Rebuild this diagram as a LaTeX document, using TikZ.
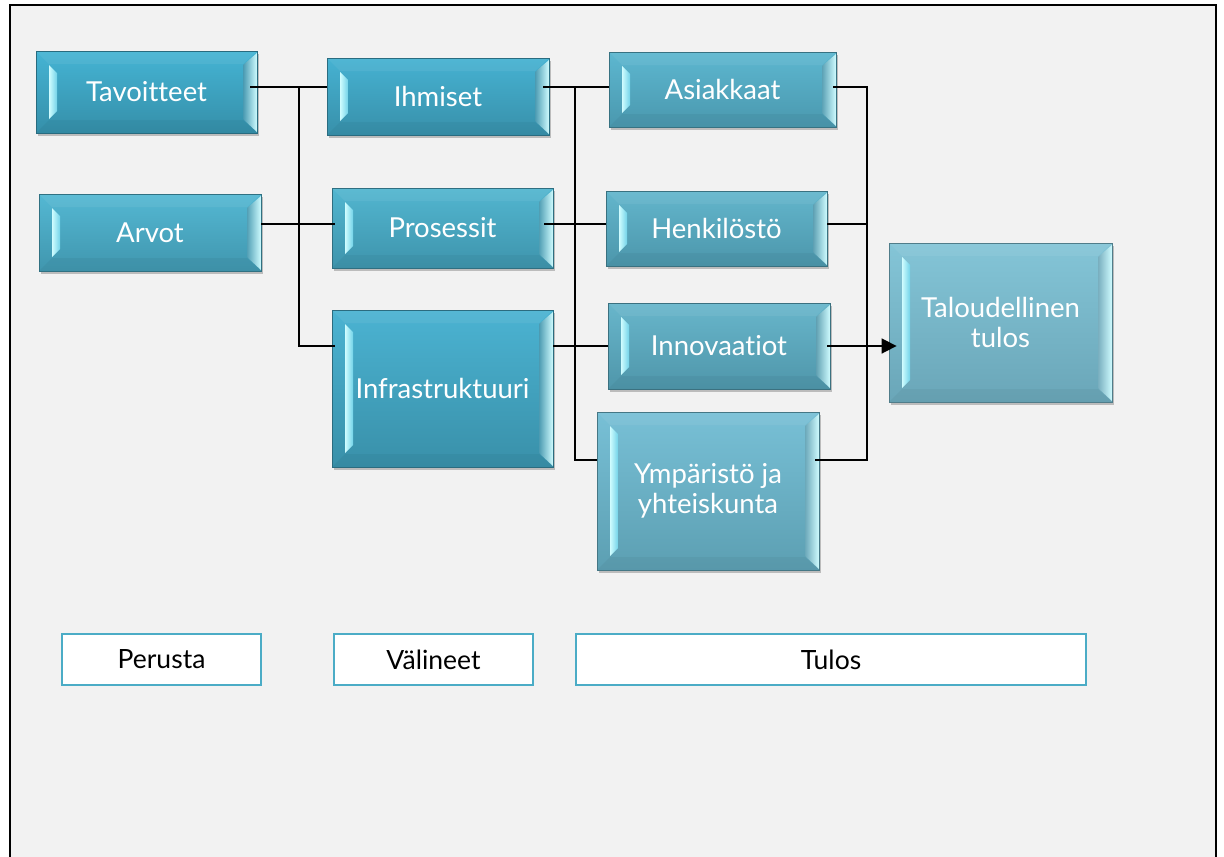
\documentclass[tikz,border=0pt]{standalone}
\usepackage{fontspec}
\setmainfont{Lato}[Ligatures=NoCommon]
\usetikzlibrary{shadows,arrows.meta}

\definecolor{pagebg}{HTML}{F2F2F2}
\definecolor{hilite}{HTML}{CFFCFF}
\definecolor{hilitedark}{HTML}{72D3E8}
\definecolor{tagline}{HTML}{4BACC6}

\newcommand\boxfont{\fontsize{27.5}{30}\selectfont}
\newcommand\tagfont{\fontsize{26.5}{30}\selectfont}

\tikzset{
  bevel/.style 2 args={
    rectangle, inner sep=0pt,
    top color=#1, bottom color=#2, draw=#2!75!black, line width=0.8pt,
    text=white, font=\boxfont, align=center,
    drop shadow={shadow xshift=1.5pt, shadow yshift=-3pt, opacity=0.22, fill=black},
    path picture={
      \coordinate (pp-nw) at (path picture bounding box.north west);
      \coordinate (pp-se) at (path picture bounding box.south east);
      \coordinate (pp-ne) at (pp-nw -| pp-se);
      \coordinate (pp-sw) at (pp-nw |- pp-se);
      % slightly darker lower bevel face, lighter upper face
      \fill[black, opacity=0.04] (pp-sw) -- (pp-se) -- ([shift={(-14pt,13pt)}]pp-se)
        -- ([shift={(13pt,13pt)}]pp-sw) -- cycle;
      \fill[white, opacity=0.06] (pp-nw) -- (pp-ne) -- ([shift={(-14pt,-13pt)}]pp-ne)
        -- ([shift={(13pt,-13pt)}]pp-nw) -- cycle;
      % left highlight strip
      \shade[left color=hilite, right color=hilitedark]
        ([shift={(13pt,-14pt)}]pp-nw) -- ([shift={(21pt,-22pt)}]pp-nw)
        -- ([shift={(21pt,22pt)}]pp-sw) -- ([shift={(13pt,14pt)}]pp-sw) -- cycle;
      % right highlight face
      \shade[left color=#2!90!white, right color=hilite]
        ([shift={(0pt,-2pt)}]pp-ne) -- ([shift={(-14pt,-14pt)}]pp-ne)
        -- ([shift={(-14pt,14pt)}]pp-se) -- ([shift={(0pt,1pt)}]pp-se) -- cycle;
    }
  },
  tagbox/.style={
    rectangle, inner sep=0pt, fill=white, draw=tagline, line width=1.6pt,
    text=black, font=\tagfont
  },
  link/.style={draw=black, line width=1.6pt},
  feed/.style={link, -{Triangle[length=15pt,width=15pt]}}
}

% #1 name, #2 x1, #3 y1, #4 x2, #5 y2, #6 top colour, #7 bottom colour, #8 text
\newcommand\bevelnode[8]{%
  \definecolor{#1-top}{HTML}{#6}%
  \definecolor{#1-bot}{HTML}{#7}%
  \node[bevel={#1-top}{#1-bot}, minimum width={#4pt-#2pt}, minimum height={#5pt-#3pt}]
    (#1) at ({(#2+#4)/2},{(#3+#5)/2}) {#8};}
\newcommand\tagnode[6]{%
  \node[tagbox, minimum width={#4pt-#2pt}, minimum height={#5pt-#3pt}]
    (#1) at ({(#2+#4)/2},{(#3+#5)/2}) {#6};}

\begin{document}
\begin{tikzpicture}[x=1pt, y=-1pt]
  \useasboundingbox (0,0) rectangle (1224,857);
  \fill[white] (0,0) rectangle (1224,857);
  % page frame, open at the bottom
  \fill[pagebg] (10,5) rectangle (1216,870);
  \draw[line width=2pt] (10,870) -- (10,5) -- (1216,5) -- (1216,870);

  % foundation
  \bevelnode{tav}{36}{51}{257}{133}{45B4D4}{358FA9}{Tavoitteet}
  \bevelnode{arv}{39}{194}{261}{271}{54B8D3}{4096AE}{Arvot}
  % means
  \bevelnode{ihm}{327}{58}{549}{135}{46B2D2}{3890AA}{Ihmiset}
  \bevelnode{pro}{332}{188}{553}{268}{52B6D0}{3E94AC}{Prosessit}
  \bevelnode{inf}{332}{310}{553}{467}{4BB3D2}{3990A9}{Infrastruktuuri}
  % results
  \bevelnode{asi}{609}{52}{836}{127}{5DB7D0}{4A98AE}{Asiakkaat}
  \bevelnode{hen}{606}{191}{827}{266}{63B6CC}{4C96AB}{Henkilöstö}
  \bevelnode{inn}{608}{303}{830}{389}{68B6CB}{4F96AA}{Innovaatiot}
  \bevelnode{ymp}{597}{412}{819}{570}{78C0D6}{5C9FB2}{Ympäristö ja\\yhteiskunta}
  \bevelnode{tal}{889}{243}{1112}{402}{84C5D7}{6AA6B8}{Taloudellinen\\tulos}

  % column captions
  \tagnode{perusta}{62}{634}{261}{685}{Perusta}
  \tagnode{valineet}{334}{634}{533}{685}{Välineet}
  \tagnode{tulos}{576}{634}{1086}{685}{Tulos}

  % connector rows and buses
  \coordinate (r1) at (0,87);
  \coordinate (r2) at (0,224);
  \coordinate (r3) at (0,346);
  \coordinate (r4) at (0,460);
  \coordinate (c1) at (299,0);
  \coordinate (c2) at (575,0);
  \coordinate (c3) at (867,0);

  \draw[link] ([xshift=-7pt]tav.east |- r1) -- (ihm.west |- r1);
  \draw[link] (arv.east |- r2) -- ([xshift=3pt]pro.west |- r2);
  \draw[link] (c1 |- r1) -- (c1 |- r3) -- ([xshift=3pt]inf.west |- r3);

  \draw[link] ([xshift=-6pt]ihm.east |- r1) -- (asi.west |- r1);
  \draw[link] ([xshift=-9pt]pro.east |- r2) -- (hen.west |- r2);
  \draw[link] (inf.east |- r3) -- (inn.west |- r3);
  \draw[link] (c2 |- r1) -- (c2 |- r4) -- (ymp.west |- r4);

  \draw[link] ([xshift=-3pt]asi.east |- r1) -- (c3 |- r1) -- (c3 |- r4)
    -- ([xshift=-4pt]ymp.east |- r4);
  \draw[link] (hen.east |- r2) -- (c3 |- r2);
  \draw[feed] ([xshift=-3pt]inn.east |- r3) -- ([xshift=8pt]tal.west |- r3);
\end{tikzpicture}
\end{document}
